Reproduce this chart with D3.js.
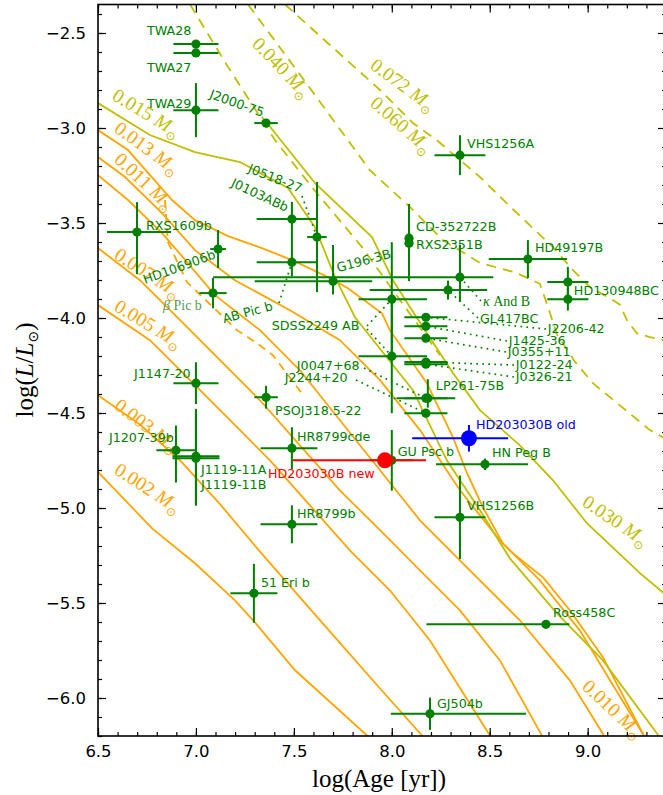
<!DOCTYPE html>
<html><head><meta charset="utf-8">
<script src="https://cdn.jsdelivr.net/npm/d3@7"></script>
<style>body{margin:0;background:#fff}svg{display:block}</style>
</head><body>
<svg id="chart" width="663" height="795"></svg>
<script>
// ---------- evolutionary tracks: [log(Age/yr), log(L/Lsun)] ----------
const track002 = [[6.5,-4.81],[6.776,-5.107],[6.995,-5.291],[7.199,-5.486],[7.301,-5.602],[7.506,-5.854],[7.873,-6.197],[7.90,-6.23]];
const track003 = [[6.5,-4.406],[6.714,-4.56],[6.919,-4.75],[7.123,-4.98],[7.327,-5.23],[7.531,-5.47],[7.735,-5.71],[7.94,-5.95],[8.154,-6.197],[8.17,-6.23]];
const track005 = [[6.5,-3.932],[6.765,-4.117],[6.97,-4.327],[7.174,-4.538],[7.378,-4.749],[7.582,-4.986],[7.786,-5.223],[7.99,-5.433],[8.195,-5.697],[8.501,-6.197],[8.52,-6.23]];
const track007 = [[6.5,-3.632],[6.714,-3.801],[6.919,-4.011],[7.123,-4.222],[7.327,-4.433],[7.531,-4.67],[7.735,-4.907],[7.94,-5.117],[8.144,-5.328],[8.348,-5.539],[8.552,-5.802],[8.766,-6.197],[8.78,-6.23]];
const track010 = [[6.5,-3.248],[6.653,-3.379],[6.827,-3.553],[6.959,-3.711],[7.097,-3.88],[7.327,-4.064],[7.531,-4.275],[7.735,-4.538],[7.94,-4.801],[8.144,-5.065],[8.399,-5.328],[8.654,-5.591],[8.909,-5.907],[9.083,-6.197],[9.09,-6.23]];
const track011 = [[6.5,-3.153],[6.638,-3.258],[6.827,-3.448],[6.995,-3.643],[7.199,-3.801],[7.48,-3.959],[7.735,-4.117],[7.94,-4.327],[8.144,-4.59],[8.348,-4.907],[8.552,-5.17],[8.756,-5.381],[8.96,-5.644],[9.114,-5.907],[9.287,-6.197],[9.30,-6.23]];
const track013 = [[6.5,-3.011],[6.653,-3.116],[6.878,-3.379],[6.995,-3.485],[7.164,-3.569],[7.337,-3.632],[7.49,-3.695],[7.674,-3.785],[7.776,-3.843],[7.95,-3.975],[7.99,-4.064],[8.179,-4.343],[8.312,-4.627],[8.384,-4.817],[8.465,-4.996],[8.567,-5.186],[8.618,-5.238],[8.772,-5.365],[8.909,-5.538],[9.078,-5.786],[9.282,-6.187],[9.31,-6.25]];
const track011dashed = [[6.842,-3.379],[6.857,-3.6],[6.954,-3.811],[7.21,-4.064],[7.312,-4.133],[7.393,-4.196],[7.536,-4.39]];
const track015 = [[6.5,-2.869],[6.765,-3.037],[6.995,-3.127],[7.225,-3.179],[7.47,-3.316],[7.608,-3.522],[7.71,-3.785],[7.812,-3.996],[8.108,-4.38],[8.281,-4.749],[8.45,-5.012],[8.603,-5.265],[8.843,-5.555],[9.078,-5.802],[9.354,-6.187],[9.42,-6.29]];
const track030 = [[7.337,-2.942],[7.363,-2.974],[7.608,-3.29],[7.899,-3.574],[8.006,-3.801],[8.093,-3.943],[8.312,-4.29],[8.45,-4.485],[8.654,-4.67],[8.823,-4.854],[8.996,-5.08],[9.267,-5.343],[9.42,-5.475]];
const track040 = [[6.97,-2.35],[7.164,-2.679],[7.404,-3.064],[7.592,-3.311],[7.848,-3.627],[8.042,-3.906],[8.246,-4.196]];
const track060 = [[7.266,-2.35],[7.582,-2.79],[7.888,-3.222],[8.093,-3.416],[8.261,-3.59],[8.45,-3.71],[8.63,-3.76],[8.756,-3.82],[8.797,-3.94],[8.843,-4.086],[8.935,-4.23],[9.027,-4.343],[9.318,-4.59],[9.42,-4.65]];
const track072 = [[7.455,-2.35],[7.684,-2.563],[7.94,-2.80],[8.108,-2.974],[8.23,-3.064],[8.45,-3.258],[8.639,-3.448],[8.823,-3.627],[8.925,-3.748],[9.011,-3.838],[9.114,-3.896],[9.165,-3.93],[9.2,-4.011],[9.251,-4.08],[9.318,-4.101],[9.42,-4.122]];

// ---------- objects ----------
const objNames = ["TWA28","TWA27","TWA29","J2000-75","J0103ABb","J0518-27","RXS1609b","HD106906b","βPicb","ABPicb","G196-3B","κAndB","SDSS2249A","SDSS2249B","GL417BC","CD-352722B","RXS2351B","J2206-42","J1425-36","J0355+11","J0122-24","J0326-21","LP261-75B","J0047+68","J2244+20","PSOJ318.5-22","J1147-20","J1207-39b","J1119-11A","J1119-11B","HR8799cde","HR8799b","51EriB","GUPscb","HNPegB","VHS1256B","Ross458C","GJ504b","VHS1256A","HD49197B","HD130948B","HD130948C"];
const objAge   = [7.0,7.0,7.0,7.358,7.49,7.618,6.699,7.113,7.087,7.49,7.70,8.348,8.0,8.0,8.287,8.088,8.088,8.174,8.174,8.174,8.174,8.174,8.184,8.174,8.174,7.358,7.0,6.898,7.0,7.0,7.49,7.49,7.296,8.0,8.476,8.348,8.787,8.195,8.348,8.695,8.899,8.899];
const objLum   = [-2.558,-2.605,-2.906,-2.974,-3.479,-3.574,-3.548,-3.637,-3.869,-3.706,-3.806,-3.785,-3.901,-4.201,-3.853,-3.58,-3.606,-3.996,-4.043,-4.106,-4.232,-4.243,-4.422,-4.422,-4.501,-4.417,-4.343,-4.696,-4.728,-4.738,-4.685,-5.086,-5.449,-4.749,-4.77,-5.049,-5.612,-6.083,-3.143,-3.69,-3.811,-3.901];
const ageErrLo = [0.115,0.115,0.115,0.06,0.18,0.05,0.153,0.04,0.07,0.18,0.40,1.26,0.17,0.17,0.40,0.02,0.02,0.11,0.11,0.11,0.11,0.11,0.16,0.11,0.11,0.06,0.115,0.10,0.12,0.12,0.16,0.16,0.12,0.11,0.25,0.13,0.61,0.20,0.13,0.20,0.105,0.105];
const ageErrHi = [0.115,0.115,0.115,0.06,0.13,0.05,0.174,0.04,0.07,0.13,0.20,0.17,0.18,0.18,0.20,0.02,0.02,0.11,0.11,0.11,0.11,0.11,0.14,0.11,0.11,0.06,0.115,0.10,0.12,0.12,0.13,0.13,0.12,0.11,0.22,0.13,0.12,0.49,0.13,0.20,0.105,0.105];
const lumErrLo = [0,0,0.142,0.013,0.09,0.29,0.221,0.10,0.08,0.075,0.07,0.13,0.30,0.30,0.05,0.18,0.20,0,0,0,0,0,0.05,0,0,0.06,0.11,0.17,0.25,0.25,0.11,0.10,0.155,0.16,0.03,0.22,0.02,0.085,0.105,0.10,0.08,0.06];
const lumErrHi = [0,0,0.142,0.013,0.09,0.29,0.158,0.10,0.08,0.14,0.19,0.17,0.30,0.30,0.05,0.18,0.20,0,0,0,0,0,0.10,0,0,0.06,0.11,0.13,0.25,0.25,0.11,0.10,0.155,0.16,0.03,0.22,0.02,0.085,0.105,0.10,0.08,0.06];

// HD 203030B, two age/luminosity estimates
const hdName = ["HD203030B new","HD203030B old"];
const hdAge = [7.965,8.394];
const hdLum = [-4.749,-4.633];
const hdAgeLo = [0.47,0.29], hdAgeHi = [0.21,0.20];
const hdLumLo = [0,0.07], hdLumHi = [0,0.07];

// axis ticks
const xMajor = [6.5,7.0,7.5,8.0,8.5,9.0];
const yMajor = [-6.0,-5.5,-5.0,-4.5,-4.0,-3.5,-3.0,-2.5];

// ---------- layout ----------
const svg = d3.select("#chart");
const L = 98, R = 666, T = 4.5, B = 736;
const x = d3.scaleLinear().domain([6.5,9.4]).range([L,R]);
const y = d3.scaleLinear().domain([-6.2,-2.35]).range([B,T]);

const OLIVE = "#bfbf00", ORANGE = "#ffa500", GREEN = "#008000";
const SANS = "'DejaVu Sans', sans-serif";
const SERIF = "'Liberation Serif', 'DejaVu Serif', serif";

svg.append("defs").append("clipPath").attr("id","plotclip")
  .append("rect").attr("x",L).attr("y",T).attr("width",R-L).attr("height",B-T);
const plot = svg.append("g").attr("clip-path","url(#plotclip)");

const tracks = [
  {pts:track002,color:ORANGE},{pts:track003,color:ORANGE},{pts:track005,color:ORANGE},
  {pts:track007,color:ORANGE},{pts:track010,color:ORANGE},{pts:track011,color:ORANGE},
  {pts:track013,color:ORANGE},{pts:track011dashed,color:ORANGE,dash:"8 6"},
  {pts:track015,color:OLIVE},{pts:track030,color:OLIVE},
  {pts:track040,color:OLIVE,dash:"10 7"},{pts:track060,color:OLIVE,dash:"10 7"},{pts:track072,color:OLIVE,dash:"10 7"}
];
const line = d3.line().x(d=>x(d[0])).y(d=>y(d[1]));
plot.selectAll("path.track").data(tracks).join("path")
  .attr("class","track").attr("d",d=>line(d.pts))
  .attr("fill","none").attr("stroke",d=>d.color).attr("stroke-width",1.8)
  .attr("stroke-dasharray",d=>d.dash||null);

// mass labels on the tracks
const massLabels = [
  {m:"0.015",c:OLIVE,x:111,y:99,r:31},{m:"0.013",c:ORANGE,x:113,y:131,r:36},
  {m:"0.011",c:ORANGE,x:113,y:161,r:43},{m:"0.007",c:ORANGE,x:113,y:258,r:33},
  {m:"0.005",c:ORANGE,x:113,y:310,r:31},{m:"0.003",c:ORANGE,x:113,y:408,r:37},
  {m:"0.002",c:ORANGE,x:113,y:473,r:33},{m:"0.010",c:ORANGE,x:581,y:688,r:43},
  {m:"0.030",c:OLIVE,x:581,y:505,r:34},{m:"0.040",c:OLIVE,x:251,y:45,r:46},
  {m:"0.060",c:OLIVE,x:369,y:105,r:41},{m:"0.072",c:OLIVE,x:369,y:68,r:36}
];
massLabels.forEach(d=>{
  const t = svg.append("text").attr("transform",`translate(${d.x},${d.y}) rotate(${d.r})`)
    .attr("fill",d.c).attr("font-family",SERIF).attr("font-size",19.5);
  t.append("tspan").text(d.m+" ");
  t.append("tspan").attr("font-style","italic").text("M");
  t.append("tspan").attr("font-size",12).attr("dy",5).attr("font-family","'DejaVu Sans'").text("⊙");
});

// ---------- leader lines (dotted) ----------
const idx = n => objNames.indexOf(n);
const leaders = [
  ["J0518-27",302,196],["ABPicb",279,303],["SDSS2249A",367,326],["SDSS2249B",367,329],
  ["J0047+68",364,368],["J2244+20",356,380],["κAndB",481,301],["GL417BC",478,318],
  ["J2206-42",546,329],["J1425-36",507,341],["J0355+11",506,352],["J0122-24",514,365],["J0326-21",514,377]
];
svg.selectAll("line.leader").data(leaders).join("line").attr("class","leader")
  .attr("x1",d=>d[1]).attr("y1",d=>d[2])
  .attr("x2",d=>x(objAge[idx(d[0])])).attr("y2",d=>y(objLum[idx(d[0])]))
  .attr("stroke",GREEN).attr("stroke-width",1.7).attr("stroke-dasharray","1.7 4.3");

// ---------- error bars and points ----------
const objs = objNames.map((n,i)=>({n,a:objAge[i],l:objLum[i],alo:ageErrLo[i],ahi:ageErrHi[i],llo:lumErrLo[i],lhi:lumErrHi[i]}));
const eb = svg.append("g").attr("stroke",GREEN).attr("stroke-width",2);
objs.forEach(o=>{
  eb.append("line").attr("x1",x(o.a-o.alo)).attr("x2",x(o.a+o.ahi)).attr("y1",y(o.l)).attr("y2",y(o.l));
  if (o.llo+o.lhi>0) eb.append("line").attr("x1",x(o.a)).attr("x2",x(o.a)).attr("y1",y(o.l-o.llo)).attr("y2",y(o.l+o.lhi));
});
svg.append("g").selectAll("circle").data(objs).join("circle")
  .attr("cx",d=>x(d.a)).attr("cy",d=>y(d.l)).attr("r",4.6).attr("fill",GREEN);

const hdColors = ["#ff0000","#0000ff"];
hdName.forEach((n,i)=>{
  const g = svg.append("g").attr("stroke",hdColors[i]).attr("stroke-width",2);
  g.append("line").attr("x1",x(hdAge[i]-hdAgeLo[i])).attr("x2",x(hdAge[i]+hdAgeHi[i])).attr("y1",y(hdLum[i])).attr("y2",y(hdLum[i]));
  if (hdLumLo[i]+hdLumHi[i]>0) g.append("line").attr("x1",x(hdAge[i])).attr("x2",x(hdAge[i])).attr("y1",y(hdLum[i]-hdLumLo[i])).attr("y2",y(hdLum[i]+hdLumHi[i]));
  svg.append("circle").attr("cx",x(hdAge[i])).attr("cy",y(hdLum[i])).attr("r",8).attr("fill",hdColors[i]);
});

// ---------- object labels: offsets from the point, in px ----------
const labelText = {
  "TWA28":["TWA28",-49,-9],"TWA27":["TWA27",-49,19],"TWA29":["TWA29",-49,-2],
  "J2000-75":["J2000-75",-4,-6,20,"end"],"J0518-27":["J0518-27",-17,-44,22,"end"],
  "J0103ABb":["J0103ABb",-6,-7,25,"end"],"RXS1609b":["RXS1609b",9,-2],
  "HD106906b":["HD106906b",-73,35,-20],"ABPicb":["AB Pic b",-68,61,-15],
  "G196-3B":["G196-3B",5,-9,-15],"SDSS2249A":["SDSS2249 AB",-120,31],
  "J0047+68":["J0047+68",-129,-28],"J2244+20":["J2244+20",-141,-31],
  "PSOJ318.5-22":["PSOJ318.5-22",9,18],"J1147-20":["J1147-20",-62,-5],
  "J1207-39b":["J1207-39b",-67,-8],"J1119-11A":["J1119-11A",5,18],"J1119-11B":["J1119-11B",5,31],
  "HR8799cde":["HR8799cde",5,-7],"HR8799b":["HR8799b",5,-6],"51EriB":["51 Eri b",7,-6],
  "GUPscb":["GU Psc b",6,-4],"HNPegB":["HN Peg B",7,-7],"VHS1256B":["VHS1256B",7,-7],
  "Ross458C":["Ross458C",7,-7],"GJ504b":["GJ504b",7,-6],"VHS1256A":["VHS1256A",7,-7],
  "HD49197B":["HD49197B",7,-7],"HD130948B":["HD130948BC",6,13],"CD-352722B":["CD-352722B",7,-7],
  "RXS2351B":["RXS2351B",7,6],"GL417BC":["GL417BC",32,33],"J2206-42":["J2206-42",122,16],
  "J1425-36":["J1425-36",83,19],"J0355+11":["J0355+11",82,18],"J0122-24":["J0122-24",90,7],
  "J0326-21":["J0326-21",90,17],"LP261-75B":["LP261-75B",8,-8]
};
objs.forEach(o=>{
  const s = labelText[o.n]; if (!s) return;
  const px = x(o.a)+s[1], py = y(o.l)+s[2];
  svg.append("text").attr("transform",`translate(${px},${py}) rotate(${s[3]||0})`)
    .attr("text-anchor",s[4]||"start").attr("font-family",SANS).attr("font-size",12.7)
    .attr("fill",GREEN).text(s[0]);
});
// serif labels
const bp = objs[idx("βPicb")], ka = objs[idx("κAndB")];
svg.append("text").attr("x",x(bp.a)-50).attr("y",y(bp.l)+17).attr("font-family",SERIF).attr("font-size",14)
  .attr("fill","#5a9a5a").html("<tspan font-style='italic'>β</tspan> Pic b");
svg.append("text").attr("x",x(ka.a)+23).attr("y",y(ka.l)+29).attr("font-family",SERIF).attr("font-size",14)
  .attr("fill",GREEN).html("<tspan font-style='italic'>κ</tspan> And B");
// HD203030B labels
svg.append("text").attr("x",x(hdAge[0])-117).attr("y",y(hdLum[0])+18).attr("font-family",SANS).attr("font-size",12.7).attr("fill","#ff0000").text(hdName[0]);
svg.append("text").attr("x",x(hdAge[1])+7).attr("y",y(hdLum[1])-9).attr("font-family",SANS).attr("font-size",12.7).attr("fill","#0000ff").text(hdName[1]);

// ---------- axes ----------
const fmt = d => (d<0?"\u2212":"")+Math.abs(d).toFixed(1);
const xMinor = d3.range(65,94).map(v=>v/10);
const yMinor = d3.range(-62,-23).map(v=>v/10);
function styleAxis(g){ g.select(".domain").remove(); g.selectAll("line").attr("stroke","#000").attr("stroke-width",1.2);
  g.selectAll("text").attr("font-family",SANS).attr("font-size",16.5).attr("fill","#000"); }
svg.append("g").attr("transform",`translate(0,${B})`).call(d3.axisBottom(x).tickValues(xMajor).tickSize(-8).tickPadding(9).tickFormat(fmt)).call(styleAxis);
svg.append("g").attr("transform",`translate(0,${B})`).call(d3.axisBottom(x).tickValues(xMinor).tickSize(-4).tickFormat("")).call(styleAxis);
svg.append("g").attr("transform",`translate(0,${T})`).call(d3.axisTop(x).tickValues(xMajor).tickSize(-8).tickFormat("")).call(styleAxis);
svg.append("g").attr("transform",`translate(0,${T})`).call(d3.axisTop(x).tickValues(xMinor).tickSize(-4).tickFormat("")).call(styleAxis);
svg.append("g").attr("transform",`translate(${L},0)`).call(d3.axisLeft(y).tickValues(yMajor).tickSize(-8).tickPadding(12).tickFormat(fmt)).call(styleAxis);
svg.append("g").attr("transform",`translate(${L},0)`).call(d3.axisLeft(y).tickValues(yMinor).tickSize(-4).tickFormat("")).call(styleAxis);
svg.append("g").attr("transform",`translate(${R},0)`).call(d3.axisRight(y).tickValues(yMajor).tickSize(-8).tickFormat("")).call(styleAxis);
svg.append("g").attr("transform",`translate(${R},0)`).call(d3.axisRight(y).tickValues(yMinor).tickSize(-4).tickFormat("")).call(styleAxis);
svg.append("rect").attr("x",L).attr("y",T).attr("width",R-L).attr("height",B-T)
  .attr("fill","none").attr("stroke","#000").attr("stroke-width",1.6);

// axis titles
svg.append("text").attr("x",(L+R)/2-3).attr("y",787).attr("text-anchor","middle")
  .attr("font-family",SERIF).attr("font-size",25).text("log(Age [yr])");
const yl = svg.append("text").attr("transform",`translate(33,370) rotate(-90)`).attr("text-anchor","middle")
  .attr("font-family",SERIF).attr("font-size",25);
yl.append("tspan").text("log(");
yl.append("tspan").attr("font-style","italic").text("L");
yl.append("tspan").text("/");
yl.append("tspan").attr("font-style","italic").text("L");
yl.append("tspan").attr("font-size",14).attr("dy",5).attr("font-family","'DejaVu Sans'").text("⊙");
yl.append("tspan").attr("dy",-5).text(")");
</script>
</body></html>
